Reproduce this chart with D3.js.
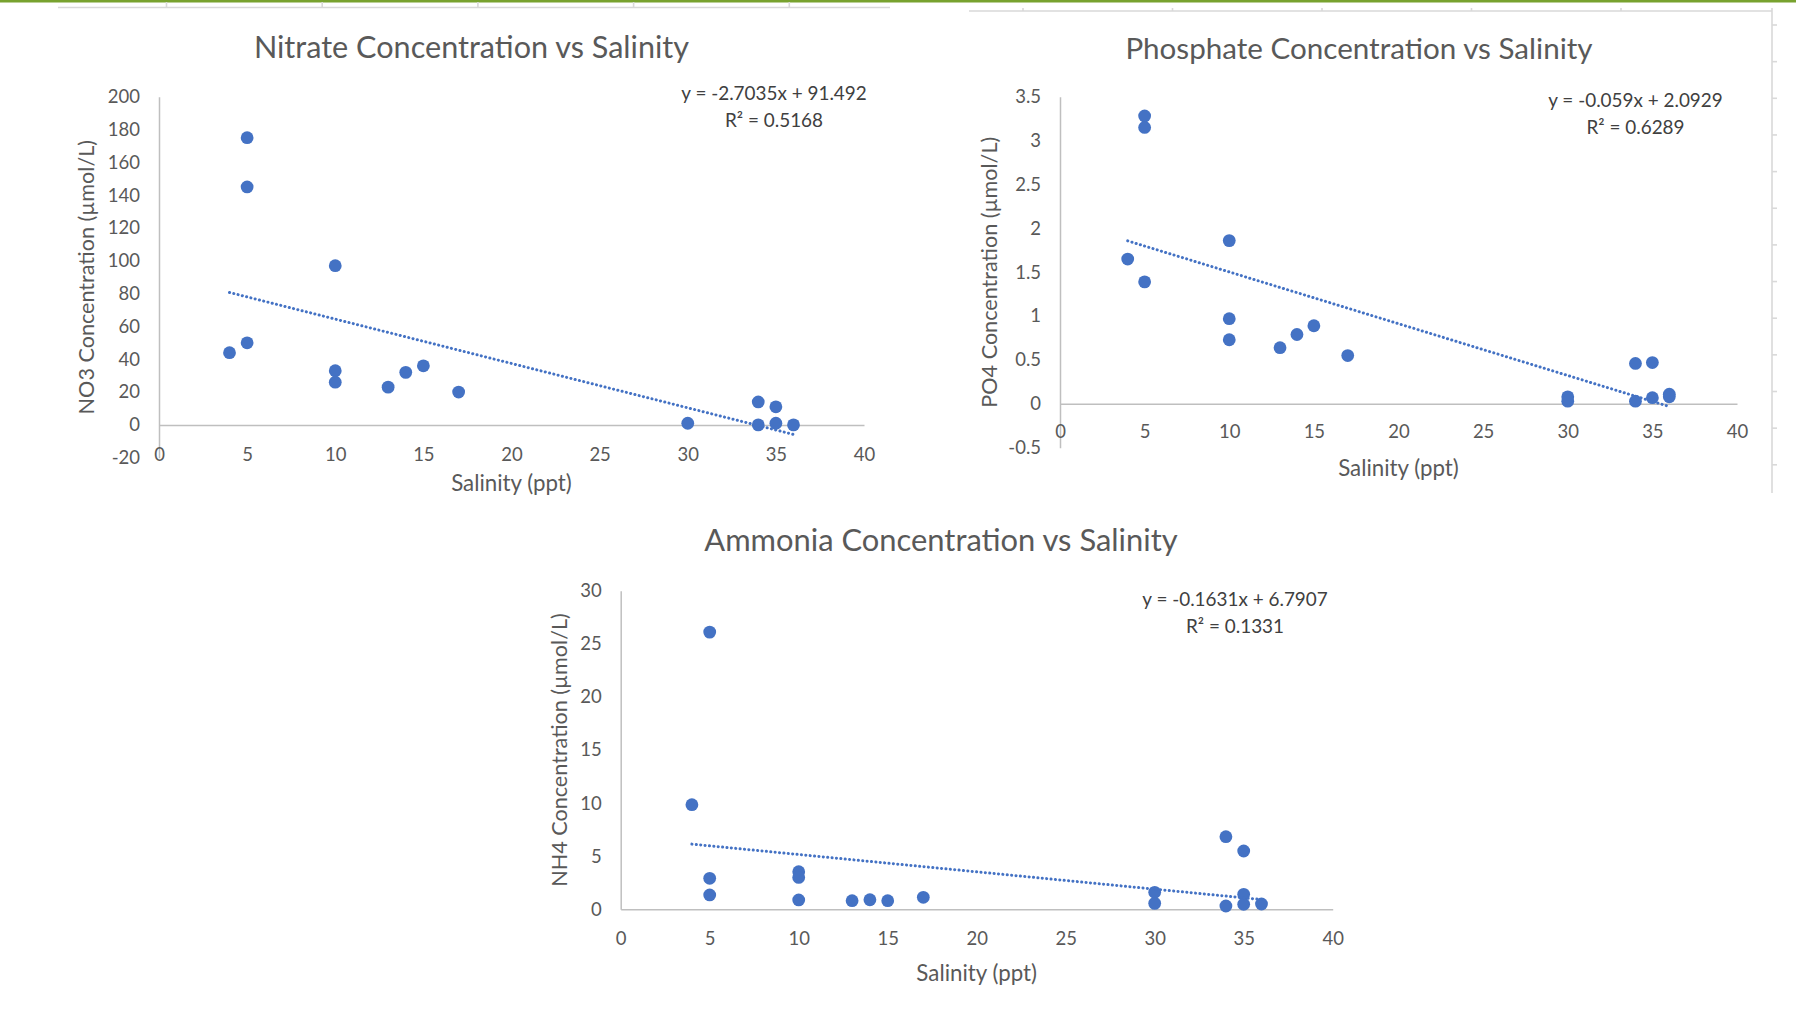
<!DOCTYPE html>
<html>
<head>
<meta charset="utf-8">
<style>
  body { margin: 0; background: #fff; }
  svg { display: block; background: #fff; }
  text { font-family: Lato, "Open Sans", sans-serif; fill: #595959; }
  .title { font-size: 30.6px; }
  .tick text { font-size: 18.5px; fill: #595959; font-family: Lato, sans-serif; }
  .axis-title { font-size: 22.3px; }
  .y-title { font-size: 21.6px; }
  .eq { font-size: 18.9px; fill: #404040; }
  .dot { fill: #4472c4; }
  .trend { stroke: #4472c4; stroke-width: 3; stroke-dasharray: 0.1 4.3; stroke-linecap: round; fill: none; }
  .domain { stroke: #bfbfbf; stroke-width: 1.5; }
  .frame { stroke: #d9d9d9; stroke-width: 1.6; fill: none; }
</style>
</head>
<body>
<script src="https://d3js.org/d3.v7.min.js"></script>
<script>

// ---- data ----
var nitrateSalinity = [4, 5, 5, 5, 10, 10, 10, 13, 14, 15, 17, 30, 34, 34, 35, 35, 36];
var nitrateValues   = [44, 175, 145, 50, 97, 33, 26, 23, 32, 36, 20, 1, 14, 0, 11, 1, 0];

var phosphateSalinity = [4, 5, 5, 5, 10, 10, 10, 13, 14, 15, 17, 30, 30, 34, 34, 35, 35, 36, 36];
var phosphateValues   = [1.65, 3.28, 3.15, 1.39, 1.86, 0.97, 0.73, 0.64, 0.79, 0.89, 0.55, 0.08, 0.03, 0.46, 0.03, 0.47, 0.07, 0.11, 0.08];

var ammoniaSalinity = [4, 5, 5, 5, 10, 10, 10, 13, 14, 15, 17, 30, 30, 34, 34, 35, 35, 35, 36];
var ammoniaValues   = [9.85, 26.1, 2.92, 1.35, 3.54, 3.0, 0.88, 0.81, 0.9, 0.81, 1.13, 1.6, 0.56, 6.84, 0.31, 5.49, 1.41, 0.47, 0.5];

// trendline fits: [slope, intercept, r2]
var nitrateFit   = [-2.7035, 91.492, 0.5168];
var phosphateFit = [-0.059, 2.0929, 0.6289];
var ammoniaFit   = [-0.1631, 6.7907, 0.1331];

var salinityTicks = [0, 5, 10, 15, 20, 25, 30, 35, 40];
var nitrateTicks   = [-20, 0, 20, 40, 60, 80, 100, 120, 140, 160, 180, 200];
var phosphateTicks = [-0.5, 0, 0.5, 1, 1.5, 2, 2.5, 3, 3.5];
var ammoniaTicks   = [0, 5, 10, 15, 20, 25, 30];

var width = 1796, height = 1011;

var svg = d3.select("body").append("svg")
    .attr("width", width)
    .attr("height", height);

// spreadsheet bits around the charts (green bar, cut-off chart frames)
svg.append("rect").attr("x", 0).attr("y", 0).attr("width", width).attr("height", 2.5).attr("fill", "#78a22f");

svg.append("line").attr("class", "frame").attr("x1", 58).attr("x2", 890).attr("y1", 7.5).attr("y2", 7.5);
d3.range(5).forEach(function(i) {
  var x = 166.5 + i * 155.7;
  svg.append("line").attr("class", "frame").attr("x1", x).attr("x2", x).attr("y1", 2).attr("y2", 7.5);
});

svg.append("line").attr("class", "frame").attr("x1", 969).attr("x2", 1772).attr("y1", 11).attr("y2", 11);
d3.range(5).forEach(function(i) {
  var x = 1023 + i * 149.5;
  svg.append("line").attr("class", "frame").attr("x1", x).attr("x2", x).attr("y1", 8).attr("y2", 11);
});
svg.append("line").attr("class", "frame").attr("x1", 1772).attr("x2", 1772).attr("y1", 8).attr("y2", 493);
d3.range(13).forEach(function(i) {
  var y = 25 + i * 36.65;
  svg.append("line").attr("class", "frame").attr("x1", 1772).attr("x2", 1777).attr("y1", y).attr("y2", y);
});

function fmt(d) { return String(+d.toFixed(2)); }

function drawChart(c) {
  var g = svg.append("g");

  var x = d3.scaleLinear().domain([0, 40]).range([c.left, c.right]);
  var y = d3.scaleLinear().domain([c.yTicks[0], c.yTicks[c.yTicks.length - 1]]).range([c.bottom, c.top]);

  // axes
  g.append("g")
    .attr("transform", "translate(" + c.left + ",0)")
    .call(d3.axisLeft(y).tickValues(c.yTicks).tickFormat(fmt).tickSize(0).tickPadding(19))
    .call(function(a) { a.select(".domain").attr("stroke", "#bfbfbf"); });

  g.append("g")
    .attr("transform", "translate(0," + y(0) + ")")
    .call(d3.axisBottom(x).tickValues(salinityTicks).tickFormat(fmt).tickSize(0).tickPadding(c.xPad))
    .call(function(a) { a.select(".domain").attr("stroke", "#bfbfbf"); });

  // dots
  g.selectAll(".dot")
    .data(c.xs.map(function(v, i) { return [v, c.ys[i]]; }))
    .enter()
    .append("circle")
    .attr("class", "dot")
    .attr("cx", function(d) { return x(d[0]); })
    .attr("cy", function(d) { return y(d[1]); })
    .attr("r", 6.4);

  // linear trendline from min to max salinity
  var ext = d3.extent(c.xs);
  var line = d3.line()
    .x(function(d) { return x(d); })
    .y(function(d) { return y(c.fit[0] * d + c.fit[1]); });
  g.append("path").attr("class", "trend").attr("d", line(ext));

  // equation label
  var eq = g.append("text").attr("class", "eq").attr("text-anchor", "middle")
    .attr("x", c.eqX).attr("y", c.eqY);
  eq.append("tspan").attr("x", c.eqX)
    .text("y = " + c.fit[0] + "x + " + c.fit[1]);
  eq.append("tspan").attr("x", c.eqX).attr("dy", 26.5)
    .text("R\u00b2 = " + c.fit[2]);

  // titles
  g.append("text").attr("class", "title").attr("text-anchor", "middle")
    .attr("x", c.titleX).attr("y", c.titleY)
    .style("font-size", c.titleSize + "px")
    .text(c.title);

  g.append("text").attr("class", "axis-title").attr("text-anchor", "middle")
    .attr("x", (c.left + c.right) / 2).attr("y", c.xTitleY).text("Salinity (ppt)");

  g.append("text").attr("class", "y-title").attr("text-anchor", "middle")
    .attr("transform", "translate(" + c.yTitleX + "," + (c.top + c.bottom) / 2 + ") rotate(-90)")
    .text(c.yTitle);
}

drawChart({
  title: "Nitrate Concentration vs Salinity", titleX: 471.5, titleY: 58, titleSize: 30.6,
  yTitle: "NO3 Concentration (\u00b5mol/L)", yTitleX: 94,
  xs: nitrateSalinity, ys: nitrateValues, fit: nitrateFit, yTicks: nitrateTicks,
  left: 159, right: 864, top: 96.7, bottom: 457.7, xPad: 23,
  xTitleY: 491, eqX: 774, eqY: 100
});

drawChart({
  title: "Phosphate Concentration vs Salinity", titleX: 1359, titleY: 59, titleSize: 29.6,
  yTitle: "PO4 Concentration (\u00b5mol/L)", yTitleX: 997,
  xs: phosphateSalinity, ys: phosphateValues, fit: phosphateFit, yTicks: phosphateTicks,
  left: 1060, right: 1737, top: 96.7, bottom: 447.7, xPad: 21,
  xTitleY: 476, eqX: 1635.5, eqY: 107
});

drawChart({
  title: "Ammonia Concentration vs Salinity", titleX: 941, titleY: 551, titleSize: 30.9,
  yTitle: "NH4 Concentration (\u00b5mol/L)", yTitleX: 567,
  xs: ammoniaSalinity, ys: ammoniaValues, fit: ammoniaFit, yTicks: ammoniaTicks,
  left: 620.7, right: 1332.7, top: 590.7, bottom: 909.3, xPad: 23,
  xTitleY: 981, eqX: 1235, eqY: 606
});

</script>
</body>
</html>
